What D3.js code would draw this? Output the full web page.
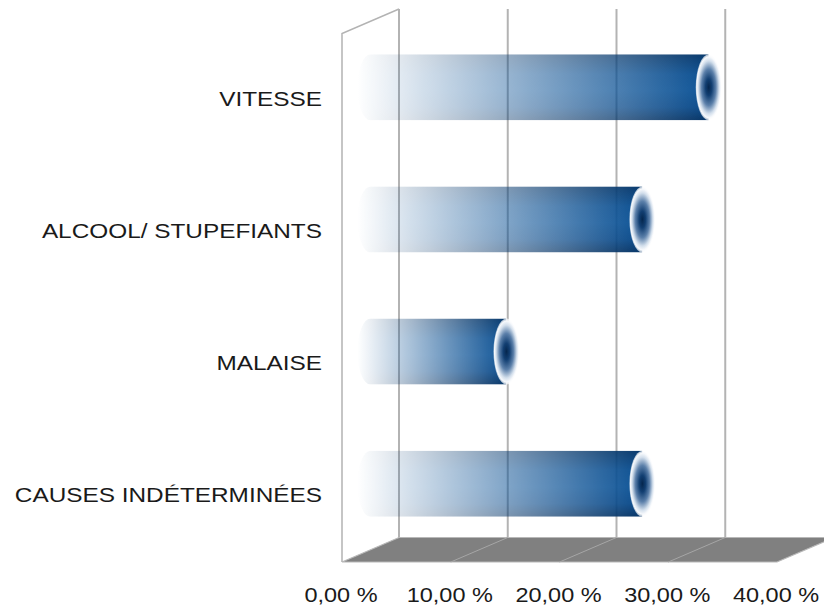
<!DOCTYPE html>
<html>
<head>
<meta charset="utf-8">
<script src="https://cdn.jsdelivr.net/npm/d3@7"></script>
<style>
  html, body { margin: 0; padding: 0; background: #fff; }
  svg { display: block; font-family: "Liberation Sans", Arial, sans-serif; }
</style>
</head>
<body>
<svg id="chart" width="824" height="606"></svg>
<script>
'use strict';

// data
const categories = ['VITESSE', 'ALCOOL/ STUPEFIANTS', 'MALAISE', 'CAUSES INDÉTERMINÉES'];
const values = [31.1, 25, 12.5, 25];
const ticks = [0, 10, 20, 30, 40];
const tickLabels = ['0,00 %', '10,00 %', '20,00 %', '30,00 %', '40,00 %'];

const svg = d3.select('#chart');

// front plane + oblique depth offset
const front = {x0: 342, yTop: 33.5, yBot: 562};
const depth = {dx: 57, dy: -24.5};

const x = d3.scaleLinear().domain([0, 40]).range([0, 435]);
const y = d3.scaleBand()
    .domain(categories)
    .range([front.yTop, front.yBot])
    .paddingInner(0.5)
    .paddingOuter(0.25);

const fx = (v) => front.x0 + x(v);

const defs = svg.append('defs');

// horizontal transparency for bars
const fade = defs.append('linearGradient').attr('id', 'fadeGrad');
fade.append('stop').attr('offset', 0).attr('stop-color', '#000');
fade.append('stop').attr('offset', 0.04).attr('stop-color', '#0a0a0a');
fade.append('stop').attr('offset', 1).attr('stop-color', '#fff');
defs.append('mask')
    .attr('id', 'fade')
    .attr('maskContentUnits', 'objectBoundingBox')
    .append('rect')
    .attr('width', 1).attr('height', 1)
    .attr('fill', 'url(#fadeGrad)');

// cylinder shading
const shade = defs.append('linearGradient')
    .attr('id', 'shade')
    .attr('x1', 0).attr('y1', 0).attr('x2', 0).attr('y2', 1);
[[0, '#06386c'], [0.3, '#0b4f91'], [0.55, '#0d5396'], [0.8, '#0a4a8a'], [1, '#053466']]
    .forEach(([o, c]) => shade.append('stop').attr('offset', o).attr('stop-color', c));

// end cap
const cap = defs.append('radialGradient').attr('id', 'cap');
[[0, '#05264d', 1], [0.25, '#123f72', 1], [0.55, '#5c80aa', 1], [0.8, '#d3dfec', 1], [0.92, '#f7f9fc', 1], [1, '#ffffff', 0.6]]
    .forEach(([o, c, a]) => cap.append('stop').attr('offset', o).attr('stop-color', c).attr('stop-opacity', a));

// back wall grid lines
svg.append('g')
    .selectAll('line')
    .data(ticks)
    .join('line')
    .attr('x1', (d) => fx(d) + depth.dx)
    .attr('x2', (d) => fx(d) + depth.dx)
    .attr('y1', front.yTop + depth.dy)
    .attr('y2', front.yBot + depth.dy)
    .attr('stroke', '#b3b3b3')
    .attr('stroke-width', 2);

// left wall outline
svg.append('path')
    .attr('d', d3.line()([
        [fx(0), front.yBot],
        [fx(0), front.yTop],
        [fx(0) + depth.dx, front.yTop + depth.dy]
    ]))
    .attr('fill', 'none')
    .attr('stroke', '#b3b3b3')
    .attr('stroke-width', 1.5);

// floor
svg.append('path')
    .attr('d', d3.line()([
        [fx(0), front.yBot],
        [fx(0) + depth.dx, front.yBot + depth.dy],
        [fx(40) + depth.dx, front.yBot + depth.dy],
        [fx(40), front.yBot]
    ]) + 'Z')
    .attr('fill', '#808080')
    .attr('stroke', '#b8b8b8')
    .attr('stroke-width', 1.2);

svg.append('g')
    .selectAll('line')
    .data(ticks.slice(1, -1))
    .join('line')
    .attr('x1', (d) => fx(d) + depth.dx)
    .attr('y1', front.yBot + depth.dy)
    .attr('x2', (d) => fx(d))
    .attr('y2', front.yBot)
    .attr('stroke', '#a6a6a6')
    .attr('stroke-width', 1);

// bars (cylinders at mid depth)
const mid = {dx: depth.dx / 2, dy: depth.dy / 2};
const rx = 13;

const bars = svg.append('g')
    .selectAll('g')
    .data(categories.map((c, i) => ({cat: c, val: values[i]})))
    .join('g');

bars.each(function (d) {
    const g = d3.select(this);
    const x0 = fx(0) + mid.dx;
    const x1 = fx(d.val) + mid.dx;
    const top = y(d.cat) + mid.dy;
    const h = y.bandwidth();
    const ry = h / 2;

    const body = g.append('g').attr('mask', 'url(#fade)');
    body.append('path')
        .attr('d', `M${x1},${top} L${x0},${top} A${rx},${ry} 0 0 0 ${x0},${top + h} L${x1},${top + h} Z`)
        .attr('fill', 'url(#shade)');

    g.append('ellipse')
        .attr('cx', x1)
        .attr('cy', top + ry)
        .attr('rx', rx)
        .attr('ry', ry)
        .attr('fill', 'url(#cap)');
});

// category labels
svg.append('g')
    .selectAll('text')
    .data(categories)
    .join('text')
    .attr('transform', (d) => `translate(322,${y(d) + y.bandwidth() / 2 + 6}) scale(1.16,1)`)
    .attr('text-anchor', 'end')
    .attr('font-size', 21)
    .attr('fill', '#1a1a1a')
    .text((d) => d);

// value axis labels
svg.append('g')
    .selectAll('text')
    .data(ticks)
    .join('text')
    .attr('transform', (d) => `translate(${fx(d) - 1},602) scale(1.12,1)`)
    .attr('text-anchor', 'middle')
    .attr('font-size', 21)
    .attr('fill', '#1a1a1a')
    .text((d, i) => tickLabels[i]);
</script>
</body>
</html>
